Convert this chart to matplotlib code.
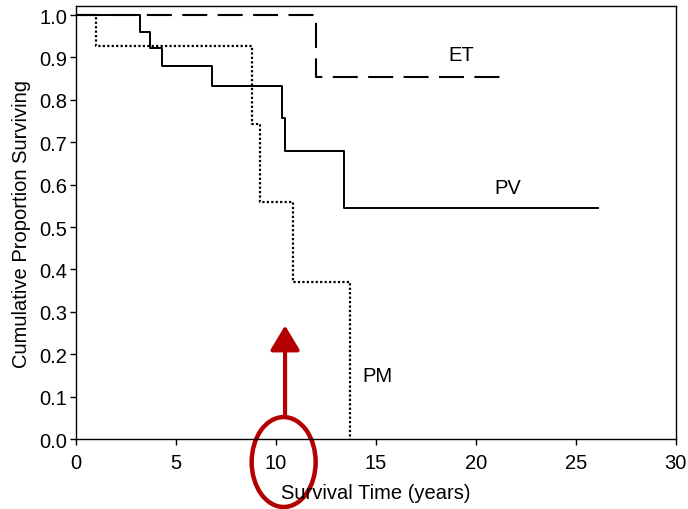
import matplotlib
matplotlib.use('Agg')
import matplotlib.pyplot as plt
from matplotlib.patches import Ellipse, FancyArrowPatch

plt.rcParams['font.family'] = ['Liberation Sans', 'DejaVu Sans']

# step data (time in years, proportion surviving)
pv_t = [0, 3.2, 3.7, 4.3, 6.8, 10.3, 10.45, 13.4, 26.1]
pv_s = [1.0, 0.96, 0.922, 0.880, 0.832, 0.757, 0.680, 0.545, 0.545]
et_t = [0, 12.0, 21.35]
et_s = [1.0, 0.855, 0.855]
pm_t = [0, 1.0, 8.8, 9.2, 10.85, 13.7]
pm_s = [1.0, 0.928, 0.743, 0.558, 0.370, 0.0]

labels = ['PV', 'ET', 'PM']
label_pos = [(21.6, 0.594), (19.3, 0.908), (15.1, 0.149)]

fig = plt.figure(figsize=(6.88, 5.10), dpi=100)
ax = fig.add_axes([0.110, 0.137, 0.872, 0.849])

ax.step(pv_t, pv_s, where='post', color='black', lw=1.4)
ax.step(et_t, et_s, where='post', color='black', lw=1.5, dashes=(12, 5))
ax.step(pm_t, pm_s, where='post', color='black', lw=1.6, linestyle=(0, (1, 1)))

for lab, (x, y) in zip(labels, label_pos):
    ax.text(x, y, lab, fontsize=14.5, ha='center', va='center')

ax.set_xlim(0, 30)
ax.set_ylim(0, 1.021)
ax.set_xticks(range(0, 31, 5))
ax.set_yticks([i / 10 for i in range(11)])
ax.set_yticklabels(['%.1f' % (i / 10) for i in range(11)])
ax.tick_params(labelsize=14.5, direction='out', length=4, width=1)
ax.tick_params(axis='x', pad=6)
ax.tick_params(axis='y', pad=2)
for s in ax.spines.values():
    s.set_linewidth(1)
ax.set_xlabel('Survival Time (years)', fontsize=14.5, labelpad=8)
ax.set_ylabel('Cumulative Proportion Surviving', fontsize=14.5, labelpad=6)

# red annotation
red = '#B40000'
ell = Ellipse((10.4, -0.054), 3.2, 0.212, fill=False, edgecolor=red, lw=3.2, clip_on=False)
ax.add_patch(ell)
arr = FancyArrowPatch((10.47, 0.054), (10.47, 0.268), arrowstyle='-|>,head_length=0.75,head_width=0.45',
                      mutation_scale=20, color=red, lw=3, clip_on=False, shrinkA=0, shrinkB=0)
ax.add_patch(arr)

fig.savefig('out.png', dpi=100)
